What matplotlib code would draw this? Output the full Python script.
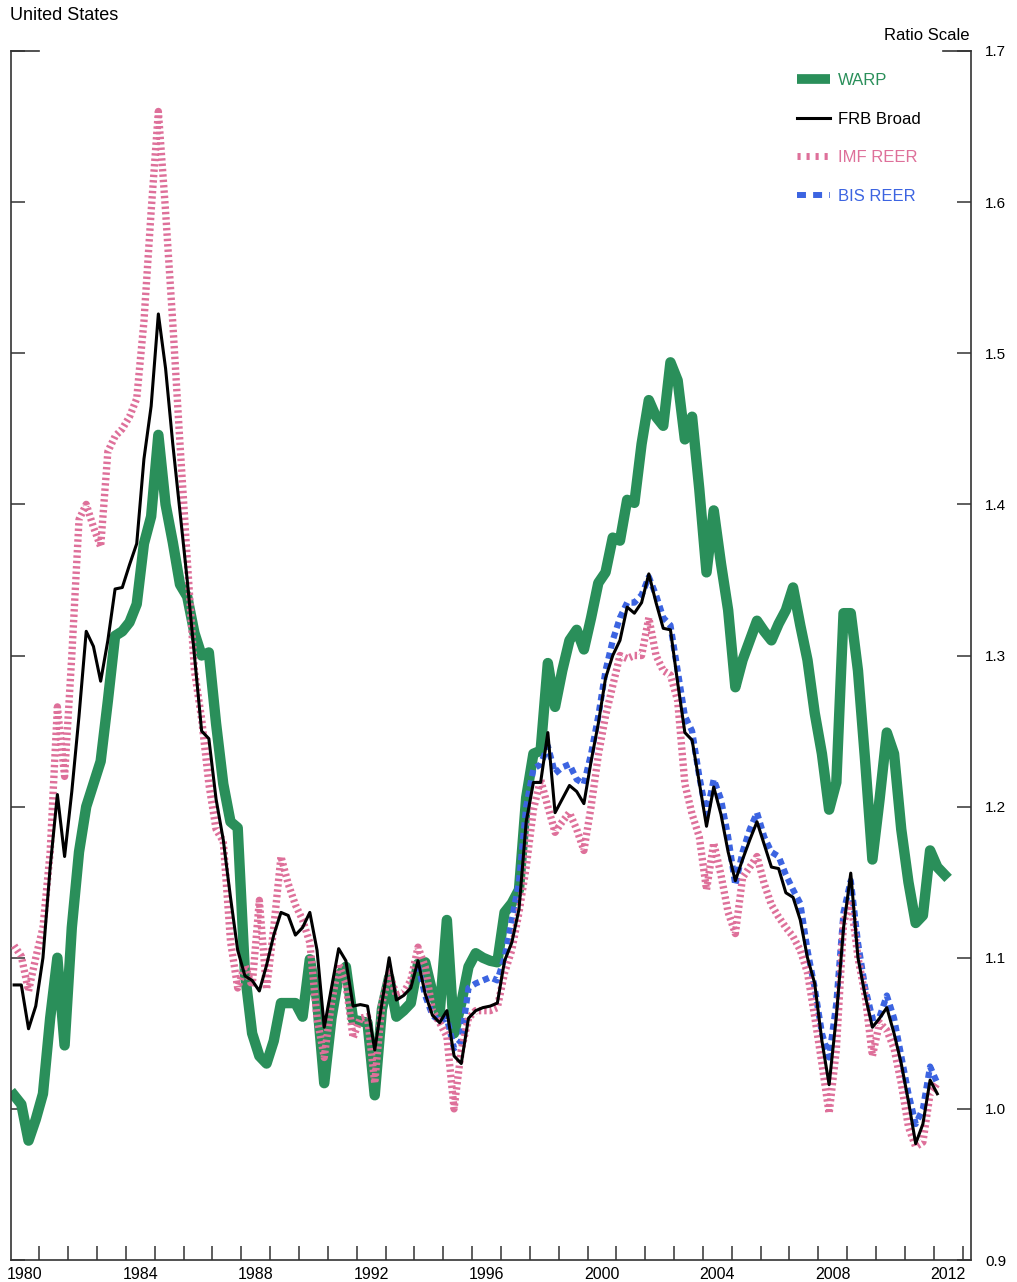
import numpy as np
import matplotlib
matplotlib.use("Agg")
import matplotlib.pyplot as plt
from matplotlib.lines import Line2D

plt.rcParams['font.family'] = ['Liberation Sans', 'DejaVu Sans']

# ---------------- data (quarterly, first quarter of 1980 onward) ----------------
start_year = 1980
bis_start_year = 1994

warp = [
    1.009, 1.003, 0.979, 0.993,   # 1980
    1.010, 1.060, 1.100, 1.042,   # 1981
    1.120, 1.170, 1.200, 1.215,   # 1982
    1.230, 1.270, 1.313, 1.316,   # 1983
    1.322, 1.334, 1.374, 1.392,   # 1984
    1.446, 1.400, 1.375, 1.347,   # 1985
    1.339, 1.315, 1.300, 1.302,   # 1986
    1.255, 1.215, 1.190, 1.186,   # 1987
    1.090, 1.050, 1.035, 1.030,   # 1988
    1.045, 1.070, 1.070, 1.070,   # 1989
    1.061, 1.099, 1.072, 1.017,   # 1990
    1.060, 1.088, 1.094, 1.059,   # 1991
    1.058, 1.057, 1.009, 1.066,   # 1992
    1.087, 1.061, 1.065, 1.070,   # 1993
    1.096, 1.097, 1.077, 1.063,   # 1994
    1.125, 1.050, 1.070, 1.094,   # 1995
    1.103, 1.100, 1.098, 1.097,   # 1996
    1.130, 1.136, 1.145, 1.206,   # 1997
    1.235, 1.237, 1.295, 1.266,   # 1998
    1.290, 1.310, 1.317, 1.304,   # 1999
    1.325, 1.348, 1.355, 1.378,   # 2000
    1.376, 1.403, 1.401, 1.440,   # 2001
    1.469, 1.458, 1.452, 1.494,   # 2002
    1.482, 1.443, 1.458, 1.410,   # 2003
    1.355, 1.396, 1.361, 1.330,   # 2004
    1.279, 1.297, 1.310, 1.323,   # 2005
    1.316, 1.310, 1.321, 1.330,   # 2006
    1.345, 1.320, 1.297, 1.262,   # 2007
    1.235, 1.198, 1.216, 1.328,   # 2008
    1.328, 1.290, 1.230, 1.165,   # 2009
    1.205, 1.249, 1.235, 1.185,   # 2010
    1.150, 1.123, 1.128, 1.171,   # 2011
    1.160, 1.155,                 # 2012
]

frb_broad = [
    1.082, 1.082, 1.053, 1.068,   # 1980
    1.100, 1.160, 1.208, 1.167,   # 1981
    1.210, 1.260, 1.316, 1.306,   # 1982
    1.283, 1.310, 1.344, 1.345,   # 1983
    1.360, 1.374, 1.430, 1.465,   # 1984
    1.526, 1.490, 1.440, 1.395,   # 1985
    1.350, 1.300, 1.250, 1.245,   # 1986
    1.205, 1.178, 1.140, 1.105,   # 1987
    1.088, 1.085, 1.078, 1.095,   # 1988
    1.115, 1.130, 1.128, 1.115,   # 1989
    1.120, 1.130, 1.105, 1.054,   # 1990
    1.080, 1.106, 1.098, 1.068,   # 1991
    1.069, 1.068, 1.039, 1.070,   # 1992
    1.100, 1.072, 1.075, 1.080,   # 1993
    1.098, 1.076, 1.062, 1.057,   # 1994
    1.065, 1.035, 1.030, 1.060,   # 1995
    1.065, 1.067, 1.068, 1.070,   # 1996
    1.098, 1.110, 1.132, 1.190,   # 1997
    1.216, 1.216, 1.249, 1.196,   # 1998
    1.205, 1.214, 1.210, 1.202,   # 1999
    1.230, 1.255, 1.285, 1.300,   # 2000
    1.310, 1.332, 1.328, 1.335,   # 2001
    1.354, 1.335, 1.318, 1.317,   # 2002
    1.282, 1.249, 1.244, 1.216,   # 2003
    1.187, 1.213, 1.195, 1.170,   # 2004
    1.151, 1.165, 1.178, 1.190,   # 2005
    1.175, 1.160, 1.159, 1.143,   # 2006
    1.140, 1.125, 1.100, 1.083,   # 2007
    1.045, 1.016, 1.061, 1.120,   # 2008
    1.156, 1.100, 1.075, 1.054,   # 2009
    1.060, 1.067, 1.050, 1.030,   # 2010
    1.005, 0.977, 0.990, 1.019,   # 2011
    1.010,                        # 2012
]

imf_reer = [
    1.108, 1.101, 1.078, 1.100,   # 1980
    1.120, 1.170, 1.266, 1.220,   # 1981
    1.300, 1.390, 1.400, 1.385,   # 1982
    1.372, 1.435, 1.445, 1.450,   # 1983
    1.458, 1.470, 1.521, 1.594,   # 1984
    1.660, 1.594, 1.520, 1.440,   # 1985
    1.364, 1.290, 1.258, 1.215,   # 1986
    1.185, 1.177, 1.111, 1.080,   # 1987
    1.095, 1.081, 1.138, 1.079,   # 1988
    1.120, 1.167, 1.149, 1.135,   # 1989
    1.125, 1.110, 1.060, 1.034,   # 1990
    1.070, 1.096, 1.083, 1.047,   # 1991
    1.060, 1.061, 1.017, 1.070,   # 1992
    1.090, 1.075, 1.077, 1.085,   # 1993
    1.107, 1.094, 1.065, 1.057,   # 1994
    1.048, 1.000, 1.039, 1.060,   # 1995
    1.065, 1.065, 1.065, 1.067,   # 1996
    1.090, 1.105, 1.130, 1.160,   # 1997
    1.198, 1.218, 1.200, 1.183,   # 1998
    1.190, 1.196, 1.185, 1.171,   # 1999
    1.200, 1.234, 1.260, 1.280,   # 2000
    1.300, 1.298, 1.300, 1.300,   # 2001
    1.325, 1.300, 1.290, 1.287,   # 2002
    1.270, 1.215, 1.195, 1.180,   # 2003
    1.145, 1.176, 1.155, 1.130,   # 2004
    1.116, 1.153, 1.160, 1.167,   # 2005
    1.149, 1.135, 1.127, 1.120,   # 2006
    1.114, 1.105, 1.090, 1.061,   # 2007
    1.030, 0.997, 1.039, 1.123,   # 2008
    1.138, 1.100, 1.075, 1.035,   # 2009
    1.057, 1.052, 1.040, 1.017,   # 2010
    0.988, 0.975, 0.978, 1.010,   # 2011
    1.017,                        # 2012
]

bis_reer = [
    1.095, 1.075, 1.062, 1.058,   # 1994
    1.060, 1.040, 1.045, 1.080,   # 1995
    1.083, 1.085, 1.087, 1.085,   # 1996
    1.100, 1.125, 1.150, 1.200,   # 1997
    1.225, 1.228, 1.240, 1.222,   # 1998
    1.226, 1.228, 1.218, 1.215,   # 1999
    1.235, 1.260, 1.290, 1.310,   # 2000
    1.325, 1.335, 1.335, 1.340,   # 2001
    1.352, 1.340, 1.325, 1.320,   # 2002
    1.290, 1.260, 1.250, 1.220,   # 2003
    1.195, 1.218, 1.205, 1.180,   # 2004
    1.148, 1.170, 1.185, 1.196,   # 2005
    1.180, 1.170, 1.167, 1.155,   # 2006
    1.145, 1.136, 1.105, 1.080,   # 2007
    1.050, 1.034, 1.070, 1.130,   # 2008
    1.151, 1.110, 1.080, 1.060,   # 2009
    1.061, 1.075, 1.060, 1.035,   # 2010
    1.010, 0.990, 1.000, 1.028,   # 2011
    1.017,                        # 2012
]

y_ticks = [0.9, 1.0, 1.1, 1.2, 1.3, 1.4, 1.5, 1.6, 1.7]
x_label_years = list(range(1980, 2013, 4))
series_names = ["WARP", "FRB Broad", "IMF REER", "BIS REER"]

# ---------------- styling ----------------
GREEN = "#2A8F5A"
PINK = "#DE709A"
BLUE = "#3C64E1"
BLACK = "#000000"


def quarter_times(n, first_year):
    # quarterly observations plotted at mid-quarter
    return first_year + 0.125 + 0.25 * np.arange(n)


W, H = 1017, 1282
fig = plt.figure(figsize=(W / 100, H / 100), dpi=100)
ax_left, ax_right, ax_top, ax_bottom = 10.5, 971.0, 51.0, 1260.0
ax = fig.add_axes([ax_left / W, 1 - ax_bottom / H,
                   (ax_right - ax_left) / W, (ax_bottom - ax_top) / H])

x_end = start_year + (ax_right - ax_left) / 28.85
ax.set_xlim(start_year, x_end)
ax.set_ylim(0.9, 1.7)

ax.plot(quarter_times(len(warp), start_year), warp, color=GREEN, lw=7.5,
        solid_joinstyle="round", zorder=2)
ax.plot(quarter_times(len(bis_reer), bis_start_year), bis_reer, color=BLUE,
        lw=4.5, linestyle=(0, (1.0, 0.7)), dash_capstyle="butt", zorder=3)
ax.plot(quarter_times(len(imf_reer), start_year), imf_reer, color=PINK,
        lw=5.3, linestyle=(0, (0.33, 0.4)), dash_capstyle="butt", zorder=4)
ax.plot(quarter_times(len(frb_broad), start_year), frb_broad, color=BLACK,
        lw=2.2, zorder=5)

# spines
for s in ["left", "right", "bottom"]:
    ax.spines[s].set_linewidth(1.2)
    ax.spines[s].set_color("#333333")
ax.spines["top"].set_visible(False)

# x ticks: year boundaries (ticks only) and mid-year labels
ax.set_xticks(np.arange(1981, 2014))
ax.set_xticklabels([])
ax.set_xticks([y + 0.5 for y in x_label_years], minor=True)
ax.set_xticklabels([str(y) for y in x_label_years], minor=True, fontsize=11.5)
ax.tick_params(axis="x", which="major", direction="in", length=10, width=1.1,
               color="#333333")
ax.tick_params(axis="x", which="minor", length=0, pad=5)

# y ticks
ax.set_yticks(y_ticks)
ax.set_yticklabels([f"{v:.1f}" for v in y_ticks], fontsize=11)
ax.tick_params(axis="y", which="major", direction="in", length=10, width=1.1,
               color="#333333", left=True, right=True, labelleft=False,
               labelright=True, pad=10)

# longer top ticks at 1.7 on both sides
frac = 28 / (ax_right - ax_left)
ytr = ax.get_yaxis_transform()
ax.plot([0, frac], [1.7, 1.7], transform=ytr, color="#333333", lw=1.2, clip_on=False)
ax.plot([1 - frac, 1], [1.7, 1.7], transform=ytr, color="#333333", lw=1.2, clip_on=False)

# texts
fig.text(10 / W, 1 - 16 / H, "United States", ha="left", va="center", fontsize=13)
fig.text(970 / W, 1 - 36 / H, "Ratio Scale", ha="right", va="center", fontsize=12)

# legend
handles = [
    Line2D([], [], color=GREEN, lw=7, solid_capstyle="butt"),
    Line2D([], [], color=BLACK, lw=2.2),
    Line2D([], [], color=PINK, lw=5, linestyle=(0, (0.45, 0.85)), dash_capstyle="butt"),
    Line2D([], [], color=BLUE, lw=4.3, linestyle=(0, (1.5, 1.2)), dash_capstyle="butt"),
]
leg = ax.legend(handles, series_names, loc="upper left",
                bbox_to_anchor=(797 / W, 1 - 73 / H), bbox_transform=fig.transFigure,
                frameon=False, fontsize=12, handlelength=2.0, handletextpad=0.45,
                labelspacing=1.42, borderpad=0, borderaxespad=0,
                labelcolor=[GREEN, BLACK, PINK, BLUE])

fig.savefig("out.png", dpi=100)
